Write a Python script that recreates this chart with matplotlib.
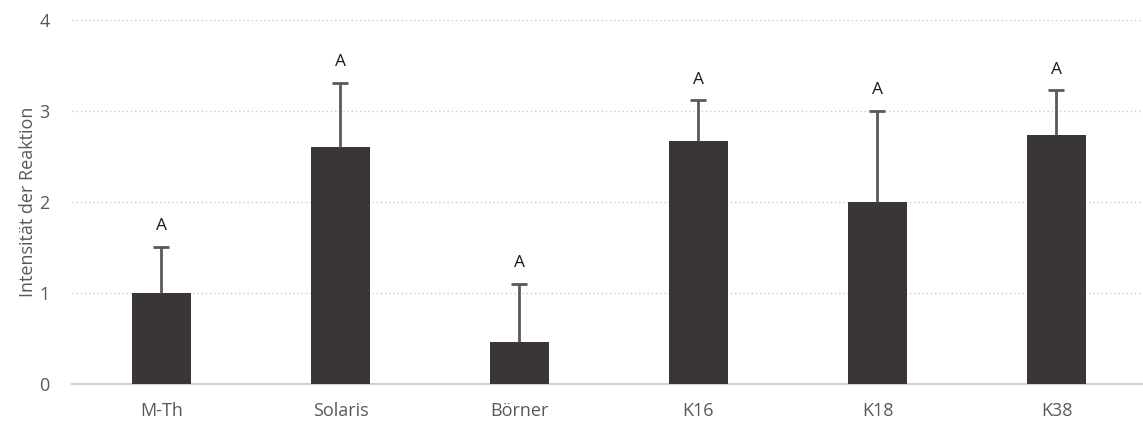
import matplotlib
matplotlib.use("Agg")
import matplotlib.pyplot as plt
import numpy as np

plt.rcParams['font.family'] = ['Open Sans', 'DejaVu Sans']

categories = ["M-Th", "Solaris", "Börner", "K16", "K18", "K38"]
means = [1.00, 2.60, 0.46, 2.67, 2.00, 2.74]
errors = [0.51, 0.71, 0.64, 0.45, 1.00, 0.49]
letters = ["A", "A", "A", "A", "A", "A"]
y_ticks = [0, 1, 2, 3, 4]

fig = plt.figure(figsize=(11.43, 4.24), dpi=100)
W, H = 1143, 424
ax = fig.add_axes([72 / W, (H - 384) / H, 1074 / W, 364 / H])

x = np.arange(len(categories))
ax.bar(x, means, width=0.325, color="#3a3636", zorder=3)
eb = ax.errorbar(x, means, yerr=[np.zeros(len(errors)), errors], fmt="none",
                 ecolor="#595959", elinewidth=2, capsize=5.5, capthick=2, zorder=4)
# only the upper whisker carries a cap
caps = eb.lines[1]
if len(caps) == 2:
    caps[0].set_visible(False)

for xi, m, e, lab in zip(x, means, errors, letters):
    ax.annotate(lab, (xi, m + e), xytext=(0, 9), textcoords="offset points",
                ha="center", va="bottom", fontsize=12.5, color="#1a1a1a")

ax.set_xlim(-0.5, len(categories) - 0.5)
ax.set_ylim(0, 4)
ax.set_yticks(y_ticks)
ax.set_xticks(x)
ax.set_xticklabels(categories)
ax.tick_params(axis="both", length=0, labelsize=13, labelcolor="#595959")
ax.tick_params(axis="y", pad=16)
ax.tick_params(axis="x", pad=13)

ax.yaxis.grid(True, linestyle=(0, (1, 2)), color="#cccccc", linewidth=1, zorder=0)
for s in ["top", "right", "left"]:
    ax.spines[s].set_visible(False)
ax.spines["bottom"].set_color("#d0d0d0")
ax.spines["bottom"].set_linewidth(1.5)

ax.set_ylabel("Intensität der Reaktion", fontsize=13, color="#595959", labelpad=2)

fig.savefig("out.png", dpi=100)
